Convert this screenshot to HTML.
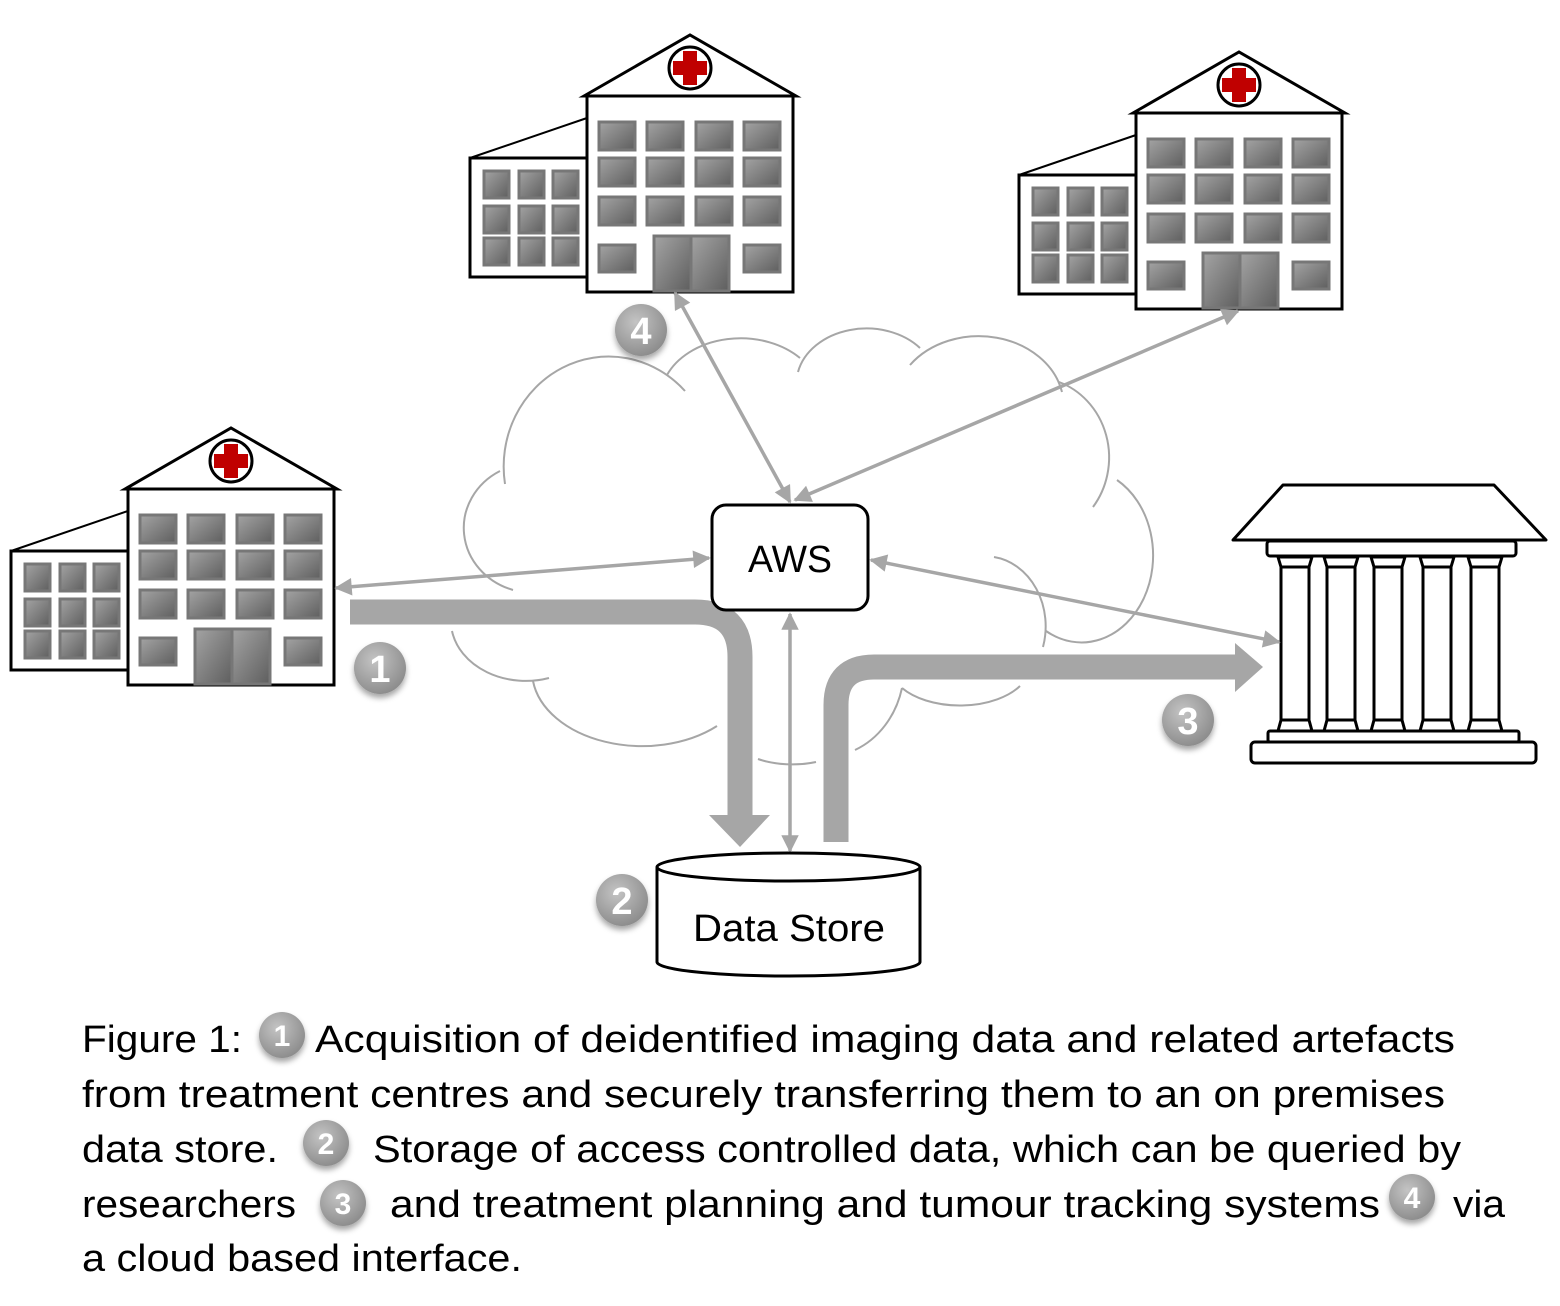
<!DOCTYPE html>
<html><head><meta charset="utf-8"><style>
html,body{margin:0;padding:0;background:#fff;}
svg{display:block;}
</style></head><body>
<svg width="1560" height="1306" viewBox="0 0 1560 1306" xmlns="http://www.w3.org/2000/svg">
<defs>
<linearGradient id="wg" x1="0" y1="0" x2="1" y2="1"><stop offset="0" stop-color="#a4a4a4"/><stop offset="1" stop-color="#5e5e5e"/></linearGradient>
<radialGradient id="bg" cx="0.4" cy="0.35" r="0.7"><stop offset="0" stop-color="#c4c4c4"/><stop offset="1" stop-color="#8a8a8a"/></radialGradient>
<filter id="sh" x="-50%" y="-50%" width="200%" height="200%"><feDropShadow dx="0" dy="4" stdDeviation="3" flood-color="#000" flood-opacity="0.35"/></filter>
<marker id="ah" viewBox="0 0 10 10" refX="9" refY="5" markerWidth="6" markerHeight="5" orient="auto-start-reverse" markerUnits="strokeWidth"><path d="M0,0 L10,5 L0,10 z" fill="#a6a6a6"/></marker>
<g id="hosp">
<polygon points="-3,0 103,-61 209,0" fill="#fff" stroke="#000" stroke-width="3"/>
<circle cx="103" cy="-28" r="21" fill="#fff" stroke="#000" stroke-width="3"/>
<rect x="96" y="-45" width="14" height="34" fill="#c00000"/>
<rect x="86" y="-35" width="34" height="14" fill="#c00000"/>
<line x1="-117" y1="62" x2="0" y2="22" stroke="#000" stroke-width="2"/>
<rect x="-117" y="62" width="117" height="119" fill="#fff" stroke="#000" stroke-width="3"/>
<rect x="0" y="0" width="206" height="196" fill="#fff" stroke="#000" stroke-width="3"/>
<g fill="url(#wg)" stroke="#777" stroke-width="3">
<rect x="12" y="26" width="36" height="28"/><rect x="60" y="26" width="36" height="28"/><rect x="109" y="26" width="36" height="28"/><rect x="157" y="26" width="36" height="28"/>
<rect x="12" y="62" width="36" height="28"/><rect x="60" y="62" width="36" height="28"/><rect x="109" y="62" width="36" height="28"/><rect x="157" y="62" width="36" height="28"/>
<rect x="12" y="101" width="36" height="28"/><rect x="60" y="101" width="36" height="28"/><rect x="109" y="101" width="36" height="28"/><rect x="157" y="101" width="36" height="28"/>
<rect x="12" y="149" width="36" height="27"/><rect x="157" y="149" width="36" height="27"/>
<rect x="67" y="140" width="37" height="55"/><rect x="104" y="140" width="38" height="55"/>
<rect x="-103" y="75" width="25" height="27"/><rect x="-68" y="75" width="25" height="27"/><rect x="-34" y="75" width="25" height="27"/>
<rect x="-103" y="110" width="25" height="27"/><rect x="-68" y="110" width="25" height="27"/><rect x="-34" y="110" width="25" height="27"/>
<rect x="-103" y="142" width="25" height="27"/><rect x="-68" y="142" width="25" height="27"/><rect x="-34" y="142" width="25" height="27"/>
</g>
</g>
</defs>

<!-- cloud -->
<g fill="none" stroke="#a6a6a6" stroke-width="2">
<path d="M505,484 A105,110 0 0 1 685,391"/>
<path d="M667,375 A80,60 0 0 1 800,358"/>
<path d="M798,372 A70,55 0 0 1 920,348"/>
<path d="M910,365 A85,70 0 0 1 1062,392"/>
<path d="M1059,382 A75,80 0 0 1 1093,507"/>
<path d="M1117,480 A70,85 0 0 1 1046,631"/>
<path d="M994,557 A60,70 0 0 1 1043,647"/>
<path d="M1020,686 A70,40 0 0 1 902,688"/>
<path d="M902,688 A80,90 0 0 1 855,750"/>
<path d="M816,762 A60,30 0 0 1 758,759"/>
<path d="M717,726 A110,75 0 0 1 533,681"/>
<path d="M549,678 A75,60 0 0 1 452,631"/>
<path d="M513,590 A70,65 0 0 1 500,471"/>
</g>

<!-- hospitals -->
<use href="#hosp" transform="translate(587,96)"/>
<use href="#hosp" transform="translate(1136,113)"/>
<use href="#hosp" transform="translate(128,489)"/>

<!-- temple -->
<g fill="#fff" stroke="#000" stroke-width="3" stroke-linejoin="round">
<polygon points="1283,485 1494,485 1546,540 1233,540"/>
<rect x="1267" y="541" width="249" height="15" rx="3"/>
<g id="col">
<polygon points="1278,557 1312,557 1309,567 1281,567"/>
<rect x="1281" y="567" width="28" height="153"/>
<polygon points="1281,720 1309,720 1312,731 1278,731"/>
</g>
<use href="#col" transform="translate(46,0)"/>
<use href="#col" transform="translate(93,0)"/>
<use href="#col" transform="translate(142,0)"/>
<use href="#col" transform="translate(190,0)"/>
<rect x="1268" y="731" width="251" height="11" rx="2"/>
<rect x="1251" y="742" width="285" height="21" rx="4"/>
</g>

<!-- thick arrows -->
<g fill="none" stroke="#a6a6a6" stroke-width="25">
<path d="M350,612 H695 Q740,612 740,657 V816"/>
<path d="M836,842 V705 Q836,667 874,667 H1236"/>
</g>
<polygon points="709,815 770,815 740,847" fill="#a6a6a6"/>
<polygon points="1235,643 1235,692 1263,667" fill="#a6a6a6"/>

<!-- thin arrows -->
<g stroke="#a6a6a6" stroke-width="3.5" fill="none" marker-start="url(#ah)" marker-end="url(#ah)">
<line x1="790" y1="502" x2="675" y2="293"/>
<line x1="795" y1="500" x2="1238" y2="311"/>
<line x1="709" y1="558" x2="336" y2="588"/>
<line x1="871" y1="560" x2="1279" y2="642"/>
<line x1="790" y1="614" x2="790" y2="851"/>
</g>

<!-- AWS box -->
<rect x="712" y="505" width="156" height="105" rx="14" fill="#fff" stroke="#000" stroke-width="3"/>
<text x="790" y="572" font-family="Liberation Sans, sans-serif" font-size="38" text-anchor="middle" textLength="84" lengthAdjust="spacingAndGlyphs">AWS</text>

<!-- data store -->
<path d="M657,867 V962 A131.5,14 0 0 0 920,962 V867" fill="#fff" stroke="#000" stroke-width="3"/>
<ellipse cx="788.5" cy="867" rx="131.5" ry="14" fill="#fff" stroke="#000" stroke-width="3"/>
<text x="789" y="941" font-family="Liberation Sans, sans-serif" font-size="38" text-anchor="middle" textLength="192" lengthAdjust="spacingAndGlyphs">Data Store</text>

<!-- badges -->
<g font-family="Liberation Sans, sans-serif" font-weight="bold" fill="#fff" text-anchor="middle">
<g filter="url(#sh)"><circle cx="380" cy="668" r="26" fill="url(#bg)"/></g><text x="380" y="682" font-size="38">1</text>
<g filter="url(#sh)"><circle cx="641" cy="330" r="26" fill="url(#bg)"/></g><text x="641" y="344" font-size="38">4</text>
<g filter="url(#sh)"><circle cx="1188" cy="720" r="26" fill="url(#bg)"/></g><text x="1188" y="734" font-size="38">3</text>
<g filter="url(#sh)"><circle cx="622" cy="900" r="26" fill="url(#bg)"/></g><text x="622" y="914" font-size="38">2</text>
<g filter="url(#sh)"><circle cx="282" cy="1035" r="23" fill="url(#bg)"/></g><text x="282" y="1046" font-size="30">1</text>
<g filter="url(#sh)"><circle cx="326" cy="1143" r="23" fill="url(#bg)"/></g><text x="326" y="1154" font-size="30">2</text>
<g filter="url(#sh)"><circle cx="343" cy="1203" r="23" fill="url(#bg)"/></g><text x="343" y="1214" font-size="30">3</text>
<g filter="url(#sh)"><circle cx="1412" cy="1197" r="23" fill="url(#bg)"/></g><text x="1412" y="1208" font-size="30">4</text>
</g>

<!-- caption -->
<g font-family="Liberation Sans, sans-serif" font-size="38" fill="#000" lengthAdjust="spacingAndGlyphs">
<text x="82" y="1052" textLength="160" lengthAdjust="spacingAndGlyphs">Figure 1:</text>
<text x="315" y="1052" textLength="1140" lengthAdjust="spacingAndGlyphs">Acquisition of deidentified imaging data and related artefacts</text>
<text x="82" y="1107" textLength="1363" lengthAdjust="spacingAndGlyphs">from treatment centres and securely transferring them to an on premises</text>
<text x="82" y="1162" textLength="196" lengthAdjust="spacingAndGlyphs">data store.</text>
<text x="373" y="1162" textLength="1088" lengthAdjust="spacingAndGlyphs">Storage of access controlled data, which can be queried by</text>
<text x="82" y="1217" textLength="214" lengthAdjust="spacingAndGlyphs">researchers</text>
<text x="390" y="1217" textLength="990" lengthAdjust="spacingAndGlyphs">and treatment planning and tumour tracking systems</text>
<text x="1453" y="1217" textLength="52" lengthAdjust="spacingAndGlyphs">via</text>
<text x="82" y="1271" textLength="440" lengthAdjust="spacingAndGlyphs">a cloud based interface.</text>
</g>
</svg>
</body></html>
